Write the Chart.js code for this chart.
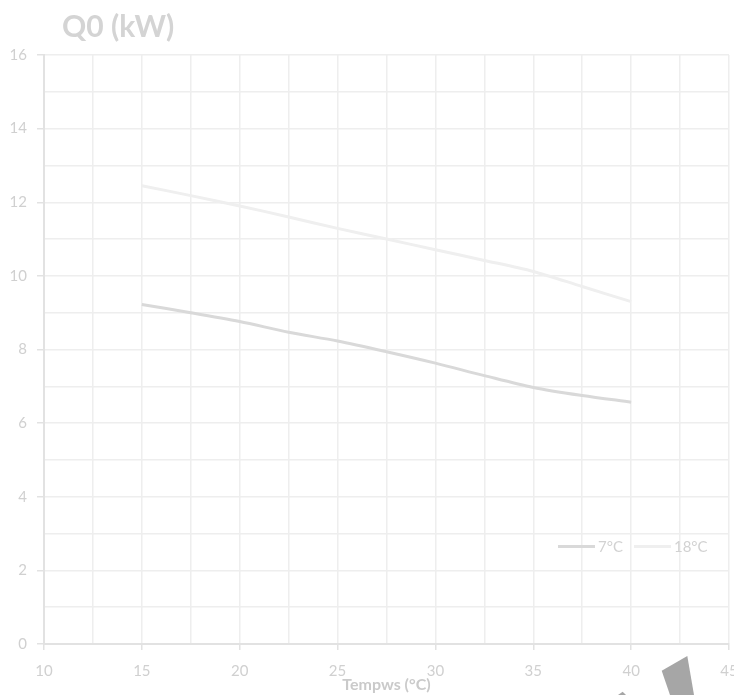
<!DOCTYPE html>
<html lang="en">
<head>
<meta charset="UTF-8">
<title>Q0 (kW)</title>
<script src="https://cdn.jsdelivr.net/npm/chart.js"></script>
<style>
    body { margin: 0; background: #fff; }
    .quadro { position: relative; width: 734px; height: 695px; overflow: hidden; font-family: Lato, "Open Sans", sans-serif; }
    #titulo { position: absolute; left: 62px; top: 7px; font-size: 30px; font-weight: bold; color: #d4d4d4; }
    #legenda { position: absolute; left: 558px; top: 537px; font-size: 15px; color: #d2d2d2; display: flex; align-items: center; }
    #legenda span.item { display: flex; align-items: center; margin-right: 11px; }
    #legenda i { display: inline-block; width: 37px; height: 3px; margin-right: 3px; }
    #marca { position: absolute; left: 600px; top: 640px; width: 134px; height: 55px; background: #a6a6a6;
        clip-path: polygon(61.7px 30.7px, 87.3px 16px, 94px 55px, 70px 55px); }
    #marca2 { position: absolute; left: 600px; top: 640px; width: 134px; height: 55px; background: #a6a6a6;
        clip-path: polygon(18px 55px, 22.7px 51.7px, 26px 55px); }
</style>
</head>
<body>
<div class="quadro">
    <canvas id="grafico" width="734" height="695"></canvas>
    <div id="titulo">Q0 (kW)</div>
    <div id="legenda"></div>
    <div id="marca"></div>
    <div id="marca2"></div>
</div>
<script>
    // temperatura (°C) no eixo x
    var temperaturas = [15, 17.5, 20, 22.5, 25, 27.5, 30, 32.5, 35, 37.5, 40];
    var serie7 = [9.22, 9.0, 8.76, 8.47, 8.23, 7.94, 7.63, 7.29, 6.97, 6.75, 6.57];
    var serie18 = [12.45, 12.18, 11.90, 11.60, 11.29, 11.0, 10.71, 10.42, 10.12, 9.71, 9.30];
    var nomes = ['7°C', '18°C'];
    var cores = ['#d9d9d9', '#efefef'];

    function pares(ys) {
        return temperaturas.map(function (t, i) { return { x: t, y: ys[i] }; });
    }

    var dados = {
        datasets: [
            { label: nomes[0], data: pares(serie7), borderColor: cores[0], borderWidth: 3, pointRadius: 0, tension: 0.3 },
            { label: nomes[1], data: pares(serie18), borderColor: cores[1], borderWidth: 3, pointRadius: 0, tension: 0.3 }
        ]
    };

    var corTexto = '#d0d0d0';
    var corGrade = '#eeeeee';

    var meuGrafico = new Chart(document.getElementById('grafico'), {
        type: 'line',
        data: dados,
        options: {
            responsive: false,
            animation: false,
            layout: { padding: { top: 55, right: 5, left: 0, bottom: 0 } },
            plugins: { legend: { display: false }, tooltip: { enabled: false } },
            scales: {
                x: {
                    type: 'linear',
                    min: 10, max: 45,
                    ticks: {
                        stepSize: 2.5,
                        autoSkip: false,
                        maxRotation: 0,
                        padding: 12,
                        color: corTexto,
                        font: { family: 'Lato', size: 15 },
                        callback: function (v) { return v % 5 === 0 ? v : ''; }
                    },
                    grid: {
                        color: corGrade,
                        lineWidth: 1.5,
                        tickLength: 6,
                        tickColor: function (c) { return c.tick && c.tick.value % 5 === 0 ? '#e2e2e2' : 'rgba(0,0,0,0)'; }
                    },
                    border: { color: '#e2e2e2', width: 2 },
                    title: {
                        display: true,
                        text: 'Tempws (°C)',
                        color: '#cacaca',
                        font: { family: 'Lato', size: 16, weight: 'bold' },
                        padding: { top: 0, bottom: 1 }
                    },
                    afterFit: function (s) { s.height = 51; s.paddingLeft = 0; s.paddingRight = 0; }
                },
                y: {
                    min: 0, max: 16,
                    ticks: {
                        stepSize: 1,
                        autoSkip: false,
                        padding: 10,
                        color: corTexto,
                        font: { family: 'Lato', size: 15 },
                        callback: function (v) { return v % 2 === 0 ? v : ''; }
                    },
                    grid: {
                        color: corGrade,
                        lineWidth: 1.5,
                        tickLength: 7,
                        tickColor: function (c) { return c.tick && c.tick.value % 2 === 0 ? '#e2e2e2' : 'rgba(0,0,0,0)'; }
                    },
                    border: { color: '#e2e2e2', width: 2 },
                    afterFit: function (s) { s.width = 44; }
                }
            }
        }
    });

    // legenda dentro da area do grafico
    var legenda = document.getElementById('legenda');
    meuGrafico.data.datasets.forEach(function (d) {
        var item = document.createElement('span');
        item.className = 'item';
        item.innerHTML = '<i style="background:' + d.borderColor + '"></i>' + d.label;
        legenda.appendChild(item);
    });
</script>
</body>
</html>
